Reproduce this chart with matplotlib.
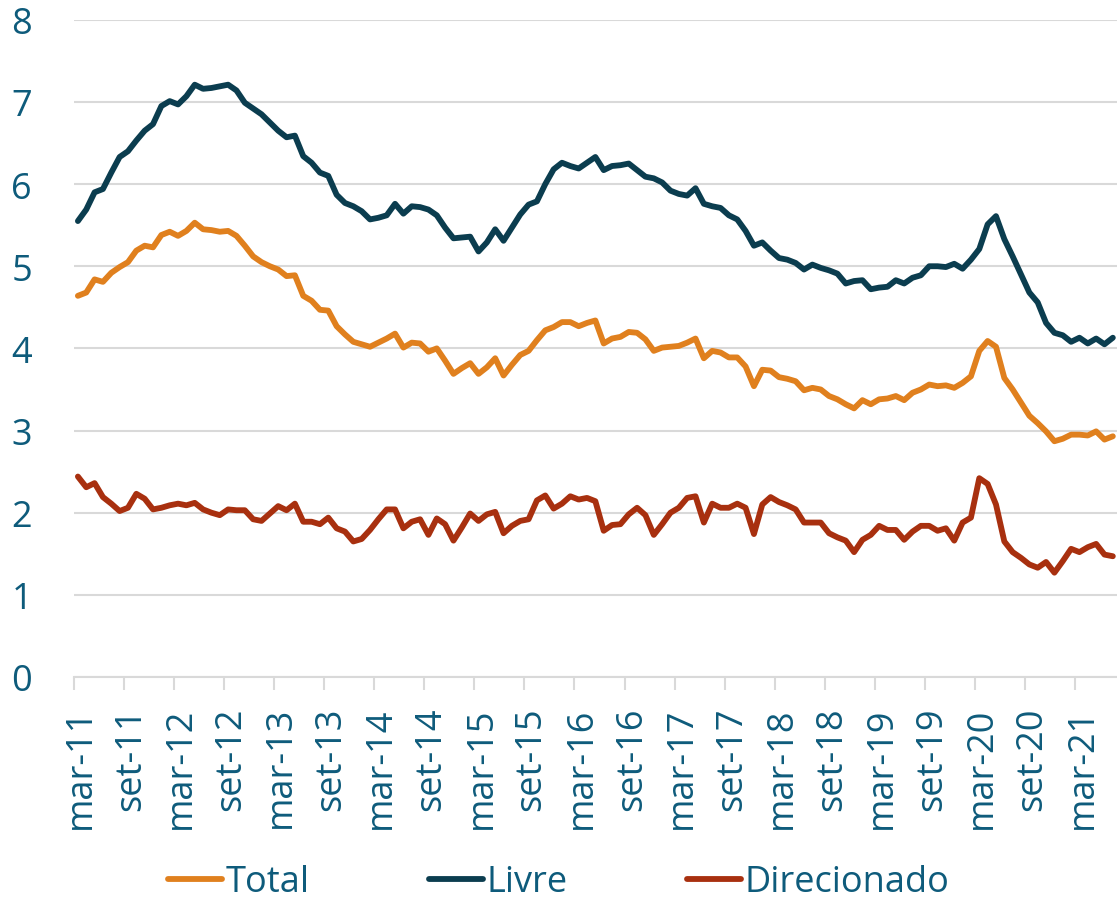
# Taxas mensais: Total, Livre e Direcionado (mar-11 a jul-21)
import numpy as np
from matplotlib import pyplot as plt
from matplotlib.ticker import FixedLocator
import matplotlib.transforms as mtransforms

plt.rcParams['font.family'] = ['Open Sans', 'DejaVu Sans']

COR_TEXTO = "#0E5B7B"
COR_GRADE = "#D9D9D9"

# series mensais, de mar-11 ate jul-21
total = [4.64, 4.68, 4.84, 4.81, 4.92, 4.99, 5.05, 5.19, 5.25, 5.23,
         5.38, 5.42, 5.37, 5.43, 5.53, 5.45, 5.44, 5.42, 5.43, 5.37,
         5.25, 5.12, 5.05, 5.00, 4.96, 4.88, 4.89, 4.64, 4.58, 4.47,
         4.46, 4.27, 4.17, 4.08, 4.05, 4.02, 4.07, 4.12, 4.18, 4.01,
         4.07, 4.06, 3.96, 4.00, 3.85, 3.69, 3.76, 3.82, 3.69, 3.77,
         3.88, 3.67, 3.80, 3.92, 3.97, 4.10, 4.22, 4.26, 4.32, 4.32,
         4.27, 4.31, 4.34, 4.06, 4.12, 4.14, 4.20, 4.19, 4.11, 3.97,
         4.01, 4.02, 4.03, 4.07, 4.12, 3.88, 3.97, 3.95, 3.89, 3.89,
         3.78, 3.54, 3.74, 3.73, 3.65, 3.63, 3.60, 3.49, 3.52, 3.50,
         3.42, 3.38, 3.32, 3.27, 3.37, 3.32, 3.38, 3.39, 3.42, 3.37,
         3.46, 3.50, 3.56, 3.54, 3.55, 3.52, 3.58, 3.66, 3.97, 4.09,
         4.02, 3.64, 3.50, 3.34, 3.18, 3.09, 2.99, 2.87, 2.90, 2.95,
         2.95, 2.94, 2.99, 2.89, 2.93]

livre = [5.55, 5.69, 5.90, 5.94, 6.14, 6.33, 6.40, 6.53, 6.65, 6.73,
         6.95, 7.01, 6.97, 7.07, 7.21, 7.16, 7.17, 7.19, 7.21, 7.14,
         6.99, 6.92, 6.85, 6.75, 6.65, 6.57, 6.59, 6.34, 6.26, 6.14,
         6.10, 5.87, 5.77, 5.73, 5.67, 5.57, 5.59, 5.62, 5.76, 5.64,
         5.73, 5.72, 5.69, 5.62, 5.47, 5.34, 5.35, 5.36, 5.18, 5.29,
         5.45, 5.31, 5.47, 5.63, 5.75, 5.79, 6.00, 6.18, 6.26, 6.22,
         6.19, 6.26, 6.33, 6.17, 6.22, 6.23, 6.25, 6.17, 6.09, 6.07,
         6.02, 5.92, 5.88, 5.86, 5.95, 5.76, 5.73, 5.71, 5.62, 5.57,
         5.43, 5.25, 5.29, 5.19, 5.10, 5.08, 5.04, 4.96, 5.02, 4.98,
         4.95, 4.91, 4.79, 4.82, 4.83, 4.72, 4.74, 4.75, 4.83, 4.79,
         4.86, 4.89, 5.00, 5.00, 4.99, 5.03, 4.97, 5.08, 5.21, 5.51,
         5.61, 5.33, 5.12, 4.90, 4.68, 4.56, 4.31, 4.19, 4.16, 4.08,
         4.13, 4.06, 4.12, 4.05, 4.13]

direcionado = [2.44, 2.31, 2.36, 2.19, 2.11, 2.02, 2.06, 2.23, 2.17, 2.04,
               2.06, 2.09, 2.11, 2.09, 2.12, 2.04, 2.00, 1.97, 2.04, 2.03,
               2.03, 1.92, 1.90, 1.99, 2.08, 2.03, 2.11, 1.89, 1.89, 1.86,
               1.94, 1.81, 1.77, 1.65, 1.68, 1.79, 1.92, 2.04, 2.04, 1.81,
               1.89, 1.92, 1.73, 1.93, 1.86, 1.66, 1.82, 1.99, 1.90, 1.98,
               2.01, 1.75, 1.84, 1.90, 1.92, 2.15, 2.21, 2.05, 2.11, 2.20,
               2.16, 2.18, 2.14, 1.78, 1.85, 1.86, 1.98, 2.06, 1.97, 1.73,
               1.86, 2.00, 2.06, 2.18, 2.20, 1.88, 2.11, 2.06, 2.06, 2.11,
               2.06, 1.74, 2.10, 2.19, 2.13, 2.09, 2.04, 1.88, 1.88, 1.88,
               1.75, 1.70, 1.66, 1.52, 1.67, 1.73, 1.84, 1.79, 1.79, 1.67,
               1.77, 1.84, 1.84, 1.78, 1.81, 1.66, 1.88, 1.94, 2.42, 2.35,
               2.10, 1.65, 1.52, 1.45, 1.37, 1.33, 1.40, 1.27, 1.41, 1.56,
               1.52, 1.58, 1.62, 1.49, 1.47]

# rotulos do eixo x, um a cada 6 meses
rotulos = ["mar-11", "set-11", "mar-12", "set-12", "mar-13", "set-13",
           "mar-14", "set-14", "mar-15", "set-15", "mar-16", "set-16",
           "mar-17", "set-17", "mar-18", "set-18", "mar-19", "set-19",
           "mar-20", "set-20", "mar-21"]

series = [("Total", total, "#E0801E"),
          ("Livre", livre, "#0B3D4F"),
          ("Direcionado", direcionado, "#A8300F")]

fig = plt.figure(figsize=(11.17, 9.04), dpi=100)
ax = fig.add_axes([0.066, 0.25, 0.934, 0.727])

x = np.arange(len(total))
for nome, valores, cor in series:
    ax.plot(x, valores, color=cor, lw=4.2, label=nome,
            solid_joinstyle='round', solid_capstyle='round')

ax.set_xlim(-0.5, len(total) - 0.5)
ax.set_ylim(0, 8)
ax.set_yticks(range(0, 9))

# rotulos no centro da categoria, marcas entre categorias
pos = np.arange(len(rotulos)) * 6
ax.set_xticks(pos)
ax.set_xticklabels(rotulos, rotation=90)
ax.xaxis.set_minor_locator(FixedLocator(np.append(pos - 0.5, pos[-1] + 5.5)))
ax.tick_params(axis='x', which='major', length=0, pad=21,
               labelsize=26, labelcolor=COR_TEXTO)
ax.tick_params(axis='x', which='minor', length=9, width=1.5, color=COR_GRADE)
ax.tick_params(axis='y', length=0, pad=30, labelsize=26, labelcolor=COR_TEXTO)

# leve deslocamento dos rotulos para a direita, como no original
desloc = mtransforms.ScaledTranslation(0.03, 0, fig.dpi_scale_trans)
for lbl in ax.get_xticklabels():
    lbl.set_transform(lbl.get_transform() + desloc)

ax.grid(axis='y', color=COR_GRADE, lw=1.5)
ax.set_axisbelow(True)
for lado in ['left', 'right', 'top']:
    ax.spines[lado].set_visible(False)
ax.spines['bottom'].set_color(COR_GRADE)
ax.spines['bottom'].set_linewidth(1.5)

leg = fig.legend(loc='center', bbox_to_anchor=(0.5, 0.023), ncol=3,
                 frameon=False, fontsize=26, handlelength=1.5,
                 handletextpad=0.1, columnspacing=3.3, borderpad=0.2)
for t in leg.get_texts():
    t.set_color(COR_TEXTO)

fig.savefig("out.png", dpi=100)
